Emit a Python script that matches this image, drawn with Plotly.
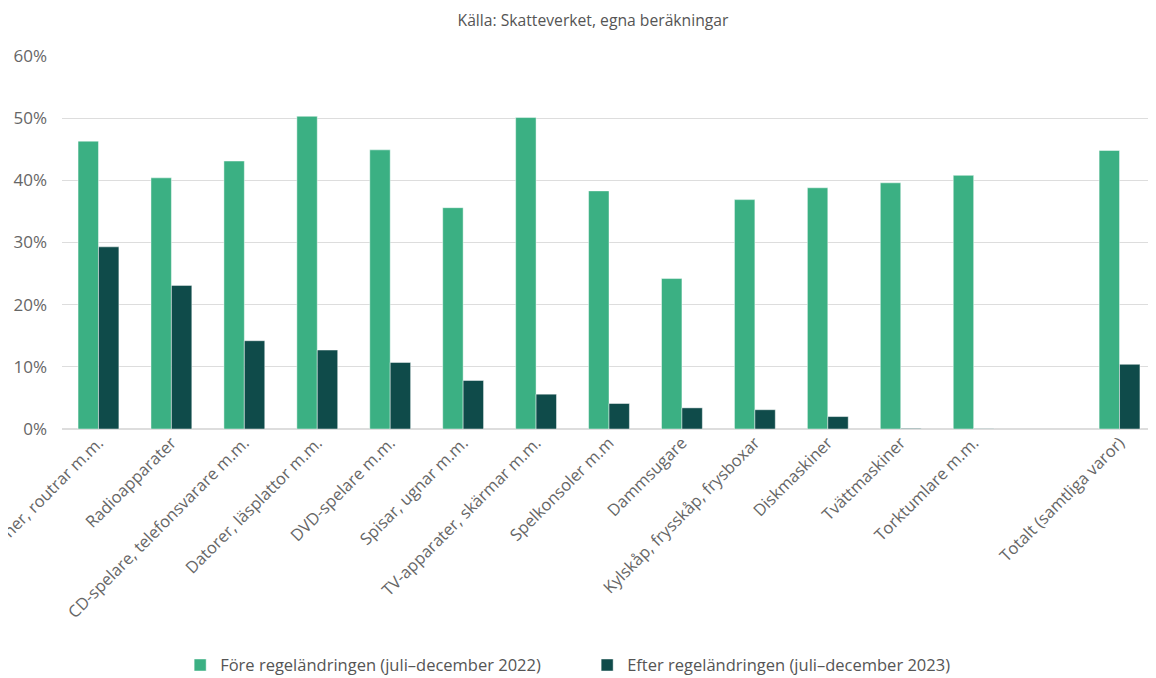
import plotly.graph_objects as go

categories = [
    "Mobiltelefoner, routrar m.m.",
    "Radioapparater",
    "CD-spelare, telefonsvarare m.m.",
    "Datorer, läsplattor m.m.",
    "DVD-spelare m.m.",
    "Spisar, ugnar m.m.",
    "TV-apparater, skärmar m.m.",
    "Spelkonsoler m.m",
    "Dammsugare",
    "Kylskåp, frysskåp, frysboxar",
    "Diskmaskiner",
    "Tvättmaskiner",
    "Torktumlare m.m.",
    " ",
    "Totalt (samtliga varor)",
]
fore = [46.3, 40.4, 43.1, 50.3, 44.9, 35.6, 50.1, 38.3, 24.2, 36.9, 38.8, 39.6, 40.8, None, 44.8]
efter = [29.3, 23.1, 14.2, 12.7, 10.7, 7.8, 5.6, 4.1, 3.4, 3.1, 2.0, 0.1, 0.05, None, 10.4]

series_names = [
    "Före regeländringen (juli–december 2022)",
    "Efter regeländringen (juli–december 2023)",
]
colors = ["#3bb083", "#0f4b4a"]

fig = go.Figure()
for name, vals, col in zip(series_names, [fore, efter], colors):
    fig.add_trace(go.Bar(
        x=categories, y=[None if v is None else v / 100 for v in vals],
        name=name, marker=dict(color=col, line=dict(color="rgba(255,255,255,0.45)", width=1)),
    ))

fig.update_layout(
    width=1148, height=670,
    barmode="group", bargap=0.44, bargroupgap=0,
    paper_bgcolor="white", plot_bgcolor="white",
    font=dict(family="Open Sans, Noto Sans, sans-serif", color="#666666", size=16),
    title=dict(text="Källa: Skatteverket, egna beräkningar", x=0.5096, xanchor="center",
               y=0.982, yanchor="middle", font=dict(size=15.7, color="#555555")),
    margin=dict(l=54, r=0, t=48, b=249),
    legend=dict(orientation="h", x=0.108, xanchor="left",
                yref="container", y=0.019, yanchor="middle",
                font=dict(size=16.5, color="#555555"), entrywidth=362, traceorder="normal"),
    xaxis=dict(tickangle=-45, automargin=False, showgrid=False, ticks="",
               tickfont=dict(size=16.5, color="#666666"), showline=False),
    yaxis=dict(range=[0, 0.6], dtick=0.1, tickformat=".0%", gridcolor="#dddddd",
               zeroline=True, zerolinecolor="#dddddd", automargin=False, ticks="",
               ticklabelstandoff=14,
               tickfont=dict(size=17, color="#666666")),
)

fig.write_html("out.html")
